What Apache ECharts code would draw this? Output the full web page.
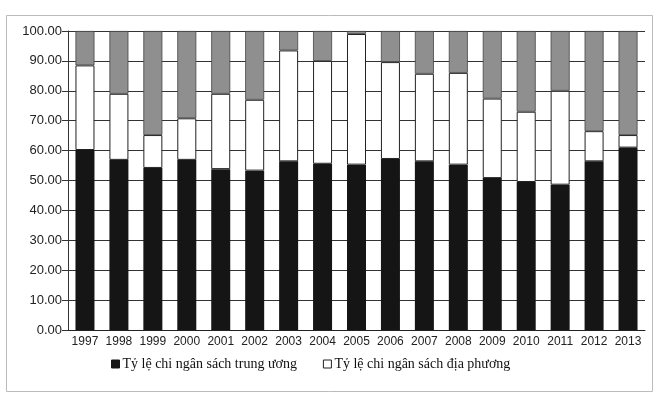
<!DOCTYPE html>
<html>
<head>
<meta charset="utf-8">
<script src="https://cdn.jsdelivr.net/npm/echarts@6/dist/echarts.min.js"></script>
<style>html,body{margin:0;padding:0;background:#fff}#c{width:657px;height:396px}</style>
</head>
<body>
<div id="c"></div>
<script>
const years = ['1997','1998','1999','2000','2001','2002','2003','2004','2005','2006','2007','2008','2009','2010','2011','2012','2013'];
const central = [60.2, 56.9, 54.2, 56.9, 53.8, 53.3, 56.4, 55.6, 55.3, 57.2, 56.4, 55.3, 50.8, 49.5, 48.6, 56.4, 61.0];
const localTop = [88.5, 79.0, 65.2, 70.8, 79.0, 77.0, 93.5, 90.0, 99.0, 89.6, 85.7, 86.0, 77.4, 73.0, 80.0, 66.5, 65.2];
const local = central.map((c, i) => +(localTop[i] - c).toFixed(1));
const other = localTop.map(t => +(100 - t).toFixed(1));
const seriesNames = ['Tỷ lệ chi ngân sách trung ương', 'Tỷ lệ chi ngân sách địa phương', 'Khác'];

const chart = echarts.init(document.getElementById('c'));
chart.setOption({
  animation: false,
  backgroundColor: '#fff',
  graphic: [{
    type: 'rect', shape: {x: 6.5, y: 15.5, width: 646, height: 376},
    style: {fill: 'none', stroke: '#bbb', lineWidth: 1}, silent: true
  }],
  grid: {left: 68, right: 12, top: 31, bottom: 66},
  legend: {
    data: [
      {name: seriesNames[0], itemStyle: {color: '#151515', borderColor: '#151515', borderWidth: 1}},
      {name: seriesNames[1], itemStyle: {color: '#fff', borderColor: '#222', borderWidth: 1}}
    ],
    bottom: 20, left: 106,
    itemWidth: 8, itemHeight: 8, itemGap: 26,
    icon: 'rect',
    textStyle: {fontFamily: 'Liberation Serif', fontSize: 14, color: '#111', padding: [0, 0, 0, -2]}
  },
  xAxis: {
    type: 'category', data: years,
    axisLine: {show: true, lineStyle: {color: '#222', width: 1}},
    axisTick: {show: false},
    axisLabel: {fontFamily: 'Liberation Sans', fontSize: 12, color: '#222', margin: 6, interval: 0}
  },
  yAxis: {
    type: 'value', min: 0, max: 100, interval: 10,
    axisLine: {show: true, lineStyle: {color: '#333', width: 1}},
    axisTick: {show: true, length: 6, lineStyle: {color: '#333'}},
    splitLine: {show: true, lineStyle: {color: '#333', width: 1}},
    axisLabel: {fontFamily: 'Liberation Sans', fontSize: 13, color: '#222', margin: 6,
      formatter: v => v.toFixed(2)}
  },
  series: [
    {name: seriesNames[0], type: 'bar', stack: 's', data: central, barCategoryGap: '44%',
      itemStyle: {color: '#151515'}},
    {name: seriesNames[1], type: 'bar', stack: 's', data: local,
      itemStyle: {color: '#fff', borderColor: '#222', borderWidth: 1}},
    {name: seriesNames[2], type: 'bar', stack: 's', data: other,
      itemStyle: {color: '#8f8f8f', borderColor: '#444', borderWidth: 0.8}}
  ]
});
</script>
</body>
</html>
